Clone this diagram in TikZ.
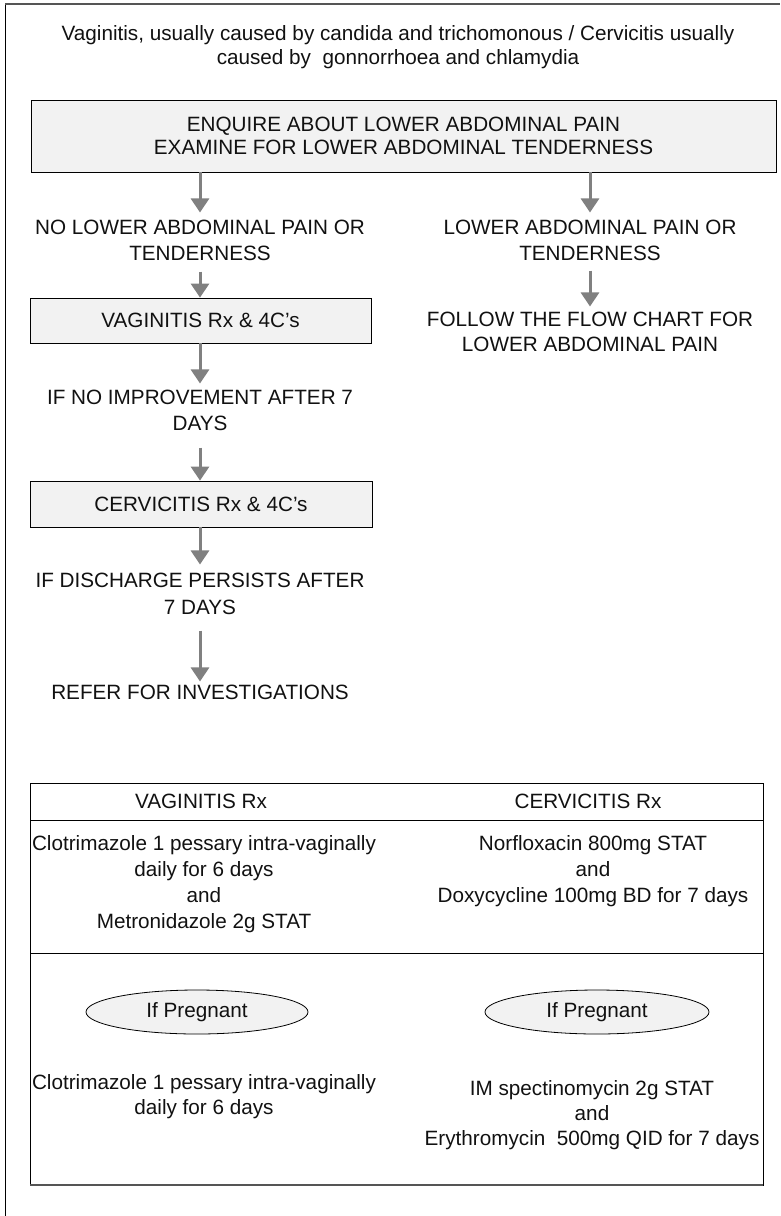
\documentclass[tikz,border=0pt]{standalone}
\usepackage{fontspec}
\setmainfont{Liberation Sans}
\usetikzlibrary{arrows.meta,shapes.geometric}
\definecolor{boxfill}{HTML}{F2F2F2}
\definecolor{arrowgray}{HTML}{808080}
\definecolor{framegray}{HTML}{555555}
\definecolor{ink}{HTML}{111111}
\begin{document}
\begin{tikzpicture}[x=1pt,y=-1pt,
  every node/.style={inner sep=0pt, align=center, text=ink,
    font=\fontsize{20.7}{25}\selectfont},
  greybox/.style={draw=black, line width=0.8pt, fill=boxfill},
  flowarrow/.style={draw=arrowgray, line width=3pt,
    -{Triangle[width=18pt,length=14pt]}},
  pregnant/.style={ellipse, draw=black, line width=0.8pt, fill=boxfill,
    minimum width=222pt, minimum height=44pt}
]
\useasboundingbox (0,0) rectangle (780,1216);

% page frame
\draw[black, line width=0.8pt] (5,1216) -- (5,4);
\draw[framegray, line width=1.4pt] (5,4) -- (780,4);

% heading
\node[font=\fontsize{20.7}{24}\selectfont] (title) at (398,47)
  {Vaginitis, usually caused by candida and trichomonous / Cervicitis usually\\
   caused by~ gonnorrhoea and chlamydia};

% assessment box
\node[greybox, minimum width=745pt, minimum height=72pt,
      font=\fontsize{20.7}{23}\selectfont] (assess) at (403.5,136)
  {ENQUIRE ABOUT LOWER ABDOMINAL PAIN\\EXAMINE FOR LOWER ABDOMINAL TENDERNESS};

% left branch
\node[font=\fontsize{20.7}{26}\selectfont] (nolow) at (200,240)
  {NO LOWER ABDOMINAL PAIN OR\\TENDERNESS};
\node[greybox, minimum width=341pt, minimum height=45pt] (vagrx) at (200.5,320.5)
  {VAGINITIS Rx \& 4C’s};
\node[font=\fontsize{20.7}{26}\selectfont] (noimp) at (200,410)
  {IF NO IMPROVEMENT AFTER 7\\DAYS};
\node[greybox, minimum width=342pt, minimum height=46pt] (cervrx) at (201,504)
  {CERVICITIS Rx \& 4C’s};
\node[font=\fontsize{20.7}{27}\selectfont] (persist) at (200,593.5)
  {IF DISCHARGE PERSISTS AFTER\\7 DAYS};
\node (refer) at (200,692) {REFER FOR INVESTIGATIONS};

% right branch
\node[font=\fontsize{20.7}{26}\selectfont] (lowpain) at (590,240)
  {LOWER ABDOMINAL PAIN OR\\TENDERNESS};
\node (follow) at (590,331.5)
  {FOLLOW THE FLOW CHART FOR\\LOWER ABDOMINAL PAIN};

% connectors
\draw[flowarrow] (assess.south -| nolow) -- ([yshift=7pt]nolow.north);
\draw[flowarrow] ([yshift=-11pt]nolow.south) -- (vagrx.north -| nolow);
\draw[flowarrow] (vagrx.south -| noimp) -- ([yshift=6pt]noimp.north);
\draw[flowarrow] ([yshift=-17pt]noimp.south) -- (cervrx.north -| noimp);
\draw[flowarrow] (cervrx.south -| persist) -- ([yshift=8pt]persist.north);
\draw[flowarrow] ([yshift=-16pt]persist.south) -- ([yshift=3pt]refer.north);
\draw[flowarrow] (assess.south -| lowpain) -- ([yshift=7pt]lowpain.north);
\draw[flowarrow] ([yshift=-10pt]lowpain.south) -- ([yshift=5pt]follow.north);

% treatment table
\draw[black, line width=0.9pt] (30,783) rectangle (763,1185);
\draw[black, line width=0.9pt] (30,820) -- (763,820);
\draw[black, line width=0.9pt] (30,953) -- (763,953);
\draw[framegray, line width=1.4pt] (30,1185) -- (763,1185);

\node (hdrvag) at (201,801) {VAGINITIS Rx};
\node (hdrcerv) at (588,801) {CERVICITIS Rx};

\node[font=\fontsize{20.7}{26}\selectfont] (vagdrugs) at (204,884)
  {Clotrimazole 1 pessary intra-vaginally\\daily for 6 days\\and\\Metronidazole 2g STAT};
\node[font=\fontsize{20.7}{26}\selectfont] (cervdrugs) at (593,871)
  {Norfloxacin 800mg STAT\\and\\Doxycycline 100mg BD for 7 days};

\node[pregnant] (pregvag) at (197,1012) {If Pregnant};
\node[pregnant, minimum width=224pt] (pregcerv) at (597,1012) {If Pregnant};

\node (vagpreg) at (204,1097)
  {Clotrimazole 1 pessary intra-vaginally\\daily for 6 days};
\node (cervpreg) at (592,1115)
  {IM spectinomycin 2g STAT\\and\\Erythromycin~ 500mg QID for 7 days};
\end{tikzpicture}
\end{document}
